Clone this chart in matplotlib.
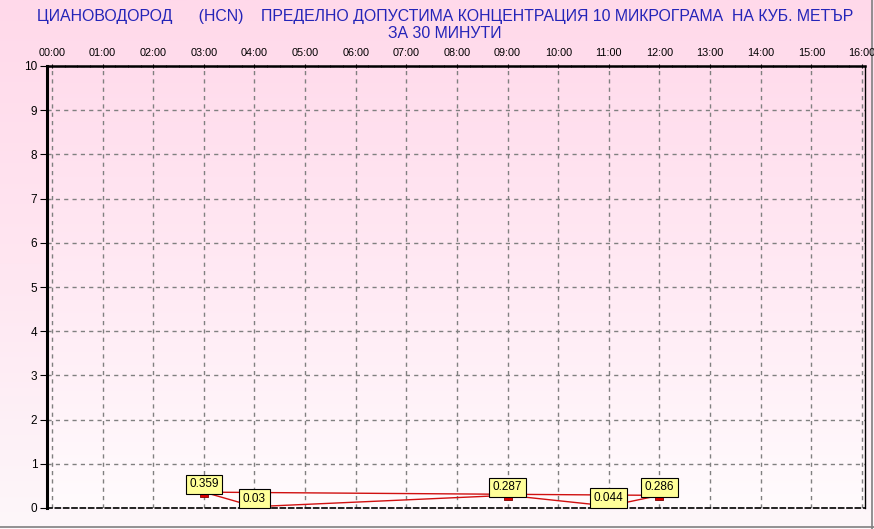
import matplotlib
matplotlib.use("Agg")
import matplotlib.pyplot as plt
import numpy as np
from matplotlib.colors import LinearSegmentedColormap
from matplotlib.lines import Line2D

plt.rcParams['font.family'] = ['Liberation Sans', 'DejaVu Sans']

# measured values (hours since 00:00, concentration)
hours = [3, 4, 9, 11, 12]
values = [0.359, 0.03, 0.287, 0.044, 0.286]
value_labels = ['0.359', '0.03', '0.287', '0.044', '0.286']
hour_ticks = list(range(0, 17))
hour_labels = ['%02d:00' % h for h in hour_ticks]
y_ticks = list(range(0, 11))

title = ('ЦИАНОВОДОРОД      (HCN)    ПРЕДЕЛНО ДОПУСТИМА КОНЦЕНТРАЦИЯ 10 МИКРОГРАМА  НА КУБ. МЕТЪР\n'
         'ЗА 30 МИНУТИ')

W, H = 874, 529
fig = plt.figure(figsize=(W / 100, H / 100), dpi=100)

# background gradient for the whole picture
bg = fig.add_axes([0, 0, 1, 1], zorder=-10)
bg_cmap = LinearSegmentedColormap.from_list('bg', ['#fdf7fa', '#ffe6f1', '#ffd9ea'])
grad = np.linspace(0, 1, 256).reshape(-1, 1)
bg.imshow(grad, cmap=bg_cmap, aspect='auto', extent=[0, 1, 0, 1], origin='lower')
bg.set_xlim(0, 1)
bg.set_ylim(0, 1)
bg.axis('off')
# grey frame lines right and bottom
bg.add_line(Line2D([0, 1], [2.5 / H, 2.5 / H], color='#808080', lw=1.2))
bg.add_line(Line2D([1 - 2.5 / W, 1 - 2.5 / W], [0, 1], color='#808080', lw=1.2))

# plot area
left, right, top, bottom = 47, 865, 66, 508
ax = fig.add_axes([left / W, (H - bottom) / H, (right - left) / W, (bottom - top) / H])
x0, x1 = -0.099, 16.06
ax.set_xlim(x0, x1)
ax.set_ylim(0, 10)

pa_cmap = LinearSegmentedColormap.from_list('pa', ['#fffbfd', '#ffeaf4', '#ffdcec'])
ax.imshow(grad, cmap=pa_cmap, aspect='auto', extent=[x0, x1, 0, 10], origin='lower', zorder=0)

ax.set_xticks(hour_ticks)
ax.set_xticklabels(hour_labels)
ax.set_yticks(y_ticks)
ax.set_xticks(np.arange(0, 16.01, 0.25), minor=True)
ax.set_yticks(np.arange(0, 10.01, 0.25), minor=True)
ax.xaxis.tick_top()
ax.tick_params(axis='x', which='major', labelsize=7.8, length=3, pad=4, direction='inout')
ax.tick_params(axis='x', which='minor', length=2, direction='inout')
ax.tick_params(axis='y', which='major', labelsize=8.5, length=5, pad=2, direction='out')
ax.tick_params(axis='y', which='minor', length=2, direction='inout')

ax.grid(True, which='major', color='#808080', linestyle=(0, (3, 3)), linewidth=1, zorder=1)

ax.spines['left'].set_linewidth(2.2)
ax.spines['top'].set_linewidth(1.8)
ax.spines['top'].set_linestyle((0, (4, 1)))
ax.spines['bottom'].set_linewidth(1.2)
ax.spines['bottom'].set_linestyle((0, (3, 2)))
ax.spines['right'].set_linewidth(1)

# closed polygon through the measurements
xs = np.append(hours, hours[0])
ys = np.append(values, values[0])
ax.plot(xs, ys, color='#d01010', lw=1, zorder=3, clip_on=False)
# small flat marker hanging just under each point
flat_box = [(-1.6, 0), (1.6, 0), (1.6, -2), (-1.6, -2), (-1.6, 0)]
ax.plot(hours, values, linestyle='none', marker=flat_box, markersize=7.2,
        markerfacecolor='#e00000', markeredgecolor='#800000', markeredgewidth=0.6,
        zorder=4)

for hx, v, lab in zip(hours, values, value_labels):
    ax.annotate(lab, (hx, v), xytext=(0, 1.5), textcoords='offset points',
                ha='center', va='bottom', fontsize=8.5, zorder=5,
                bbox=dict(boxstyle='square,pad=0.3', fc='#ffff99', ec='black', lw=0.8))

fig.text(0.509, 0.983, title, ha='center', va='top', color='#2424b8',
         fontsize=11.4, linespacing=1.15)

fig.savefig('out.png', dpi=100)
